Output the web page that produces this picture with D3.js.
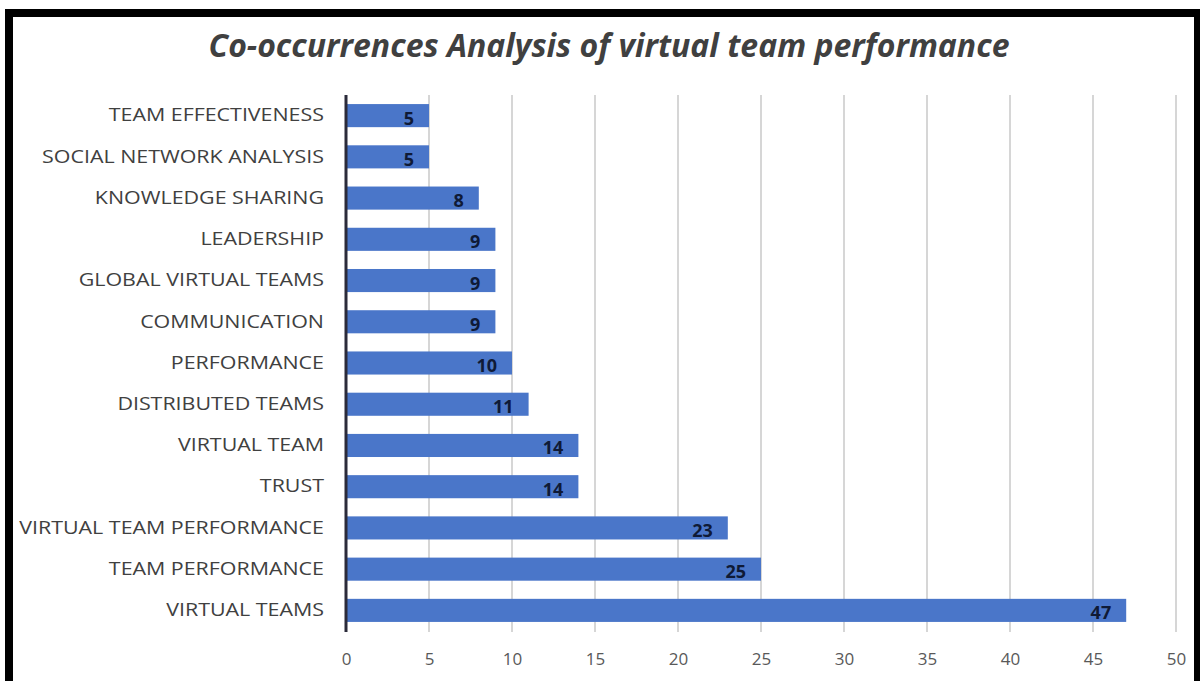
<!DOCTYPE html>
<html>
<head>
<meta charset="utf-8">
<script src="https://cdn.jsdelivr.net/npm/d3@7"></script>
<style>
  body { margin: 0; background: #fff; }
  svg { display: block; }
</style>
</head>
<body>
<svg id="chart" width="1200" height="681"></svg>
<script>
// data (top to bottom)
const categories = ["TEAM EFFECTIVENESS", "SOCIAL NETWORK ANALYSIS", "KNOWLEDGE SHARING",
  "LEADERSHIP", "GLOBAL VIRTUAL TEAMS", "COMMUNICATION", "PERFORMANCE",
  "DISTRIBUTED TEAMS", "VIRTUAL TEAM", "TRUST", "VIRTUAL TEAM PERFORMANCE",
  "TEAM PERFORMANCE", "VIRTUAL TEAMS"];
const counts = [5, 5, 8, 9, 9, 9, 10, 11, 14, 14, 23, 25, 47];
const xTicks = [0, 5, 10, 15, 20, 25, 30, 35, 40, 45, 50];

const width = 1200, height = 681;
const svg = d3.select("#chart");
const fontFamily = "'Open Sans', Lato, sans-serif";

// frame
svg.append("rect")
  .attr("x", 9).attr("y", 13)
  .attr("width", 1189).attr("height", 690)
  .attr("fill", "#fff")
  .attr("stroke", "#000")
  .attr("stroke-width", 8);
svg.append("line")
  .attr("x1", 1198).attr("x2", 1198)
  .attr("y1", 13).attr("y2", 681)
  .attr("stroke", "#000").attr("stroke-width", 3);

svg.append("text")
  .attr("x", 609)
  .attr("y", 57)
  .text("Co-occurrences Analysis of virtual team performance")
  .style("text-anchor", "middle")
  .style("font-size", 32)
  .style("font-weight", "bold")
  .style("font-style", "italic")
  .style("font-family", fontFamily)
  .style("fill", "#404040");

let x = d3.scaleLinear()
  .domain([0, 50])
  .range([346, 1176]);
let y = d3.scaleBand()
  .domain(categories)
  .range([95, 631])
  .paddingInner(0.44)
  .paddingOuter(0.22);

// gridlines
svg.append("g")
  .selectAll("line")
  .data(xTicks.slice(1))
  .enter()
  .append("line")
    .attr("x1", d => x(d))
    .attr("x2", d => x(d))
    .attr("y1", 95)
    .attr("y2", 632)
    .style("stroke", "#c9c9c9")
    .style("stroke-width", 1.5);

// bottom tick labels
svg.append("g")
  .attr("transform", "translate(0,632)")
  .call(d3.axisBottom(x).tickValues(xTicks).tickSize(0).tickPadding(21))
  .call(g => g.select(".domain").remove())
  .call(g => g.selectAll("text")
    .style("font-size", 17)
    .style("font-family", fontFamily)
    .style("fill", "#595959"));

// category labels (font is wider in the original, so stretch a bit)
svg.append("g")
  .attr("transform", "translate(346,0)")
  .call(d3.axisLeft(y).tickSize(0).tickPadding(18.5))
  .call(g => g.select(".domain").remove())
  .call(g => g.selectAll("text")
    .attr("transform", "scale(1.19,1)")
    .style("font-size", 18)
    .style("font-family", fontFamily)
    .style("fill", "#404040"));

svg.selectAll(".bars")
  .data(categories)
  .enter()
  .append("rect")
    .attr("x", x(0))
    .attr("y", d => y(d))
    .attr("width", (d, i) => x(counts[i]) - x(0))
    .attr("height", y.bandwidth())
    .style("fill", "#4a76c9");

svg.selectAll(".vals")
  .data(categories)
  .enter()
  .append("text")
    .attr("x", (d, i) => x(counts[i]) - 15)
    .attr("y", d => y(d) + y.bandwidth() / 2 + 9)
    .text((d, i) => counts[i])
    .style("text-anchor", "end")
    .style("font-size", 18)
    .style("font-weight", "bold")
    .style("font-family", fontFamily)
    .style("fill", "#0f1a36");

// zero axis line
svg.append("line")
  .attr("x1", x(0)).attr("x2", x(0))
  .attr("y1", 95).attr("y2", 632)
  .style("stroke", "#2b2b3a")
  .style("stroke-width", 3);
</script>
</body>
</html>
